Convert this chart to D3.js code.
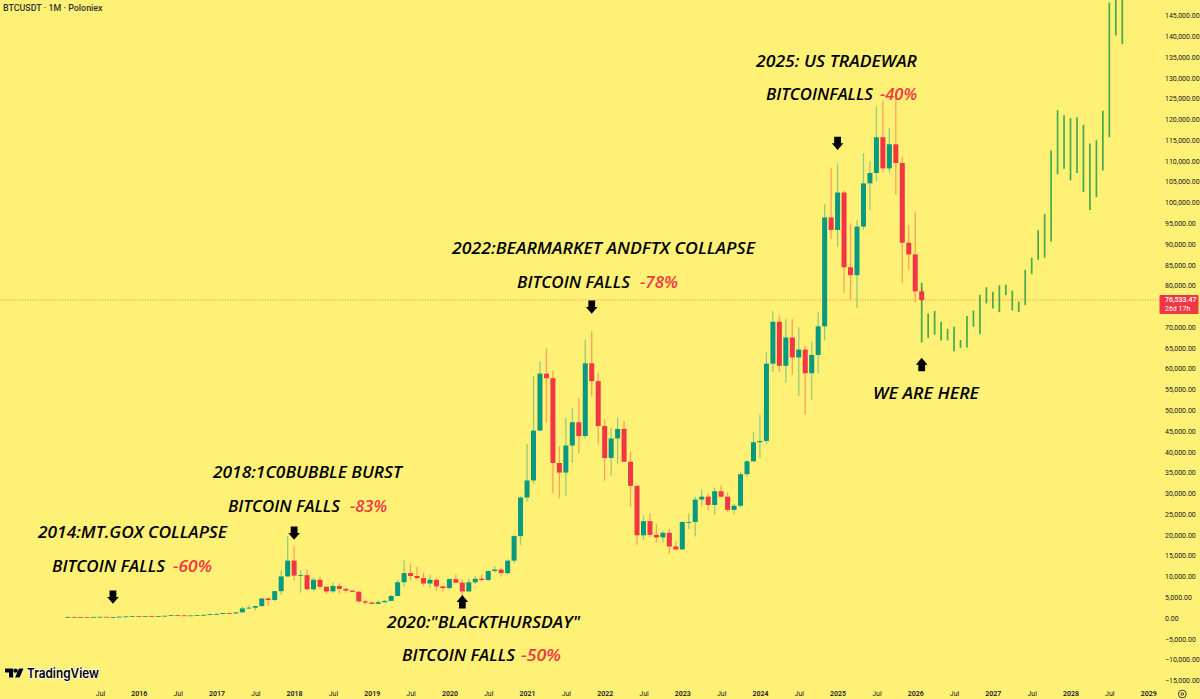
<!DOCTYPE html>
<html><head><meta charset="utf-8">
<script src="https://cdn.jsdelivr.net/npm/d3@7"></script>
<style>
html,body{margin:0;padding:0;background:#fff176;overflow:hidden}
svg{display:block}
</style></head><body>
<svg id="c" width="1200" height="699"></svg>
<script>
// Monthly candles, Feb 2015 .. Feb 2026 (month index 1 = Feb 2015)
const open=[220,254,244,236,230,263,284,230,236,311,377,
430,369,437,416,448,531,673,624,575,609,701,746,
963,970,1190,1080,1350,2300,2480,2870,4700,4340,6450,10000,
13800,10200,10300,6900,9200,7500,6400,7700,7000,6600,6300,4000,
3700,3400,3800,4100,5300,8600,10800,10100,9600,8300,9200,7600,
7200,9350,8500,6400,8600,9450,9130,11300,11650,10800,13800,19700,
29000,33100,45100,58800,57700,37300,35000,41500,47100,43800,61300,57000,
46200,38500,43200,45500,37600,31800,19900,23300,20000,19400,20500,17200,
16500,23100,23100,28500,29200,27200,30500,29200,26000,27000,34600,37700,
42300,42600,61200,71300,60700,67500,62700,64600,58900,63300,70200,96400,
93400,102400,84400,82500,94200,104600,107100,115700,108200,114000,109500,90300,
87500,78600];
const high=[265,300,260,247,268,316,286,240,335,500,465,
465,445,440,470,545,780,700,630,630,720,760,980,
1150,1200,1300,1350,2800,3000,2950,4800,5000,6500,11500,19700,
17200,11500,11700,9700,10000,7800,8500,8400,7400,6600,6500,4300,
4000,4200,4300,5600,9100,13900,13100,12300,10900,10400,9500,7700,
9600,10500,9200,9500,10100,10400,11400,12500,12000,14100,19900,29300,
41900,58300,61800,64900,59500,41300,48200,50500,52900,67000,69000,59000,
47900,45800,48200,47400,40000,31900,24700,25200,22700,21000,21400,18400,
23300,25200,29200,31000,29800,31400,31800,30200,27500,35200,38000,44700,
48900,64000,73800,72800,72000,71900,70000,65600,66500,73600,99600,108300,
109400,102800,95000,95800,111900,110000,123200,124500,117900,126200,111000,94600,
97800,79300];
const low=[215,235,210,225,220,252,200,225,235,300,345,
350,365,390,415,440,530,600,470,570,605,690,740,
750,930,880,1070,1350,2100,1800,2700,2950,4100,5500,9900,
9000,6100,6600,6400,7000,5800,6100,5900,6100,6200,3600,3200,
3400,3400,3700,4100,5300,7500,9000,9300,7700,7300,6500,6400,
6900,8400,3800,6200,8100,8900,8900,11000,9900,10400,13200,17600,
28000,32300,45000,47000,30000,28800,29300,37300,39600,43200,53300,42000,
33000,34300,37100,37700,26700,17600,18800,19500,18100,18200,15500,16300,
16500,21400,19600,26900,25900,24800,29000,25400,24900,26600,34000,37600,
38500,41900,59200,59200,56600,58500,53500,49000,52600,58900,66800,91200,
89300,78200,76600,74600,93400,98200,105100,107300,107200,102000,80600,83800,
76000,76000];
const close=[254,244,236,230,263,284,230,236,311,377,430,
369,437,416,448,531,673,624,575,609,701,746,963,
970,1190,1080,1350,2300,2480,2870,4700,4340,6450,10000,13800,
10200,10300,6900,9200,7500,6400,7700,7000,6600,6300,4000,3700,
3400,3800,4100,5300,8600,10800,10100,9600,8300,9200,7600,7200,
9350,8500,6400,8600,9450,9130,11300,11650,10800,13800,19700,29000,
33100,45100,58800,57700,37300,35000,41500,47100,43800,61300,57000,46200,
38500,43200,45500,37600,31800,19900,23300,20000,19400,20500,17200,16500,
23100,23100,28500,29200,27200,30500,29200,26000,27000,34600,37700,42300,
42600,61200,71300,60700,67500,62700,64600,58900,63300,70200,96400,93400,
102400,84400,82500,94200,104600,107100,115700,108200,114000,109500,90300,87500,
78600,76533.47];
// Projected high-low bars, Feb 2026 onward
const projHigh=[80700,73300,73900,71300,69600,70100,66900,72700,74000,77800,79600,78500,80100,80200,78800,76100,83800,86700,93300,97200,112500,122200,121000,120300,120500,118700,114200,115000,122100,148100,152000,153000];
const projLow=[66300,67400,68200,66800,66800,64200,65000,65100,70100,68300,75700,74500,73600,77700,74000,73600,75300,82800,86200,86700,90600,106800,108100,105300,107100,102500,98200,101300,107700,115700,140200,138100];
const lastPrice=76533.47;
const countdown="26d 17h";
const title="BTCUSDT · 1M · Poloniex";
const yTicks=d3.range(-15000,145001,5000).filter(v=>v!==75000);
const xTickMonths=d3.range(6,169,6);
const xTickLabels=["Jul","2016","Jul","2017","Jul","2018","Jul","2019","Jul","2020","Jul","2021","Jul","2022","Jul","2023","Jul","2024","Jul","2025","Jul","2026","Jul","2027","Jul","2028","Jul","2029"];
const arrowMonths=[8,36,82,120,62,133];
const arrowPrices=[3400,18800,73200,112600,5500,62600];
const arrowDirs=["down","down","down","down","up","up"];
const notes=[
["2014:MT.GOX COLLAPSE",38,189,532,0],["BITCOIN FALLS",52,113,566,0],["-60%",173,39,566,1],
["2018:1C0BUBBLE BURST",213,189,472,0],["BITCOIN FALLS",228,112,506,0],["-83%",350,37,506,1],
["2022:BEARMARKET ANDFTX COLLAPSE",452,303,248,0],["BITCOIN FALLS",517,113,282,0],["-78%",640,38,282,1],
["2025: US TRADEWAR",756,161,61,0],["BITCOINFALLS",766,107,94,0],["-40%",880,37,94,1],
["2020:\"BLACKTHURSDAY\"",387,193,622,0],["BITCOIN FALLS",402,113,655,0],["-50%",521,40,655,1],
["WE ARE HERE",873,106,393,0]];

const UP="#089981",DOWN="#f23645",PROJ="#43ab4c",FONT="Roboto, sans-serif";
const svg=d3.select("#c");
svg.append("rect").attr("width",1200).attr("height",699).attr("fill","#fff176");
const x=d3.scaleLinear().domain([1,133]).range([67.66,921.7]);
const y=d3.scaleLinear().domain([-15000,145000]).range([680.3,15.5]);
const g=svg.append("g");

// projection
g.selectAll(".proj").data(projHigh).join("line").attr("class","proj")
 .attr("x1",(d,i)=>x(133+i)).attr("x2",(d,i)=>x(133+i))
 .attr("y1",d=>y(d)).attr("y2",(d,i)=>y(projLow[i]))
 .attr("stroke",PROJ).attr("stroke-width",1.7);

// candles
const colr=(i)=>close[i]>=open[i]?UP:DOWN;
g.selectAll(".wick").data(open).join("line").attr("class","wick")
 .attr("x1",(d,i)=>x(i+1)).attr("x2",(d,i)=>x(i+1))
 .attr("y1",(d,i)=>y(high[i])).attr("y2",(d,i)=>y(low[i]))
 .attr("stroke",(d,i)=>colr(i)).attr("stroke-opacity",.42).attr("stroke-width",1.3);
g.selectAll(".body").data(open).join("rect").attr("class","body")
 .attr("x",(d,i)=>x(i+1)-2.5).attr("width",5)
 .attr("y",(d,i)=>y(Math.max(d,close[i])))
 .attr("height",(d,i)=>Math.max(.8,Math.abs(y(d)-y(close[i]))))
 .attr("fill",(d,i)=>colr(i));

// last price line
svg.append("line").attr("x1",0).attr("x2",1159).attr("y1",y(lastPrice)).attr("y2",y(lastPrice))
 .attr("stroke",DOWN).attr("stroke-opacity",.55).attr("stroke-width",1).attr("stroke-dasharray","1 1.5");

// arrows
const arrowPath="M-3.4,0 H3.4 V6.5 H5.8 L0,13.4 L-5.8,6.5 H-3.4 Z";
svg.selectAll(".arrow").data(arrowMonths).join("path").attr("class","arrow")
 .attr("d",arrowPath).attr("fill","#000")
 .attr("transform",(d,i)=>arrowDirs[i]==="down"
   ?`translate(${x(d)},${y(arrowPrices[i])-13.4})`
   :`translate(${x(d)},${y(arrowPrices[i])+13.4}) scale(1,-1)`);

// annotations
svg.selectAll(".note").data(notes).join("text").attr("class","note")
 .attr("x",d=>d[1]).attr("y",d=>d[3]).attr("dy","0.36em")
 .attr("textLength",d=>d[2]).attr("lengthAdjust","spacingAndGlyphs")
 .attr("font-family","'Open Sans', sans-serif").attr("font-style","italic").attr("font-weight",600)
 .attr("font-size",16.5).attr("fill",d=>d[4]?DOWN:"#000").text(d=>d[0]);

// axes
const yAxis=svg.append("g").attr("transform","translate(1165,0)")
 .call(d3.axisRight(y).tickValues(yTicks).tickFormat(d3.format(",.2f")).tickSize(0).tickPadding(0));
const xAxis=svg.append("g").attr("transform","translate(0,694)")
 .call(d3.axisBottom(x).tickValues(xTickMonths).tickFormat((d,i)=>xTickLabels[i]).tickSize(0).tickPadding(0));
xAxis.selectAll("text").attr("y",0).attr("dy","0.35em")
 .attr("font-weight",(d,i)=>xTickLabels[i]==="Jul"?400:600);
[yAxis,xAxis].forEach(a=>{a.select(".domain").remove();
 a.attr("font-family",FONT).attr("font-size",7);
 a.selectAll("text").attr("fill","#131722");});

// last price label
const ly=y(lastPrice);
svg.append("rect").attr("x",1159.5).attr("y",ly-5).attr("width",39).attr("height",19).attr("rx",1).attr("fill",DOWN);
svg.append("text").attr("x",1165).attr("y",ly).attr("dy","0.35em").attr("font-family",FONT).attr("font-size",7).attr("font-weight",500).attr("fill","#fff").text(d3.format(",.2f")(lastPrice));
svg.append("text").attr("x",1165).attr("y",ly+9).attr("dy","0.35em").attr("font-family",FONT).attr("font-size",7).attr("fill","#fff").text(countdown);

// title
svg.append("text").attr("x",3).attr("y",8).attr("dy","0.35em").attr("font-family",FONT).attr("font-size",8.9).attr("font-weight",500).attr("fill","#333").text(title);

// TradingView mark
const logo=svg.append("g");
logo.append("path").attr("d","M5,668.5 H13.2 V677.5 H9 V672.6 H5 Z M15.6,668.5 a2.1,2.1 0 1 1 -0.01,0 Z M19,668.5 H23.6 L19.6,677.5 H15 Z")
 .attr("fill","#000").attr("stroke","#fff").attr("stroke-width",1).attr("paint-order","stroke");
logo.append("text").attr("x",27).attr("y",673).attr("dy","0.36em").attr("font-family","Inter, sans-serif").attr("font-weight",600)
 .attr("font-size",13.2).attr("textLength",72).attr("lengthAdjust","spacingAndGlyphs").attr("fill","#000").attr("stroke","#fff").attr("stroke-width",1.5).attr("paint-order","stroke").text("TradingView");

// settings icon
const gear=svg.append("g").attr("transform","translate(1182.3,694)");
gear.append("circle").attr("r",3.9).attr("fill","none").attr("stroke","#131722").attr("stroke-width",.8);
gear.append("circle").attr("r",1.3).attr("fill","none").attr("stroke","#131722").attr("stroke-width",.8);
</script>
</body></html>
